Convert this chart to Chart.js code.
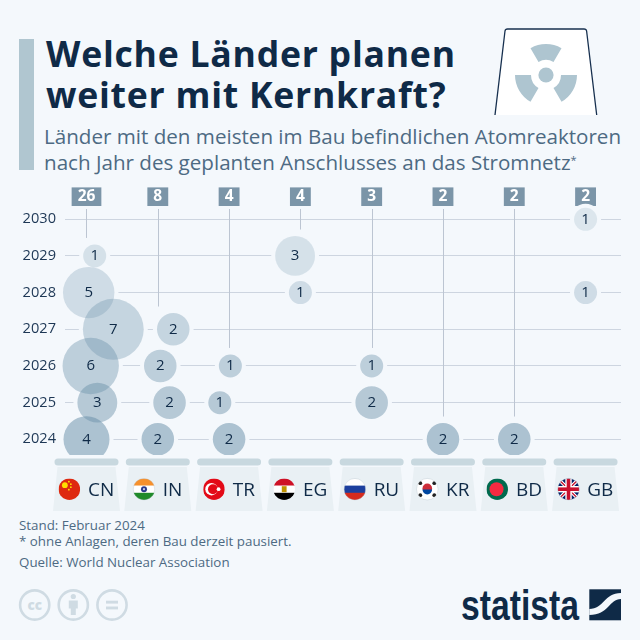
<!DOCTYPE html>
<html lang="de"><head><meta charset="utf-8">
<script src="https://cdn.jsdelivr.net/npm/chart.js@4"></script>
<style>
html,body{margin:0;padding:0;background:#f4f8fc;}
#stage{position:relative;width:640px;height:640px;overflow:hidden;background:#f4f8fc;font-family:"Open Sans",sans-serif;}
#stage canvas{position:absolute;left:0;top:0;}
#stage svg{position:absolute;left:0;top:0;}
.t{position:absolute;white-space:nowrap;}
.title{left:46px;font-weight:700;font-size:35.6px;line-height:40px;color:#0f2a47;letter-spacing:.75px;}
.sub{left:44px;font-size:20.6px;line-height:26px;color:#4d6a83;}
.sub sup{font-size:11px;line-height:0;vertical-align:6px;}
.foot{left:19px;font-size:13.35px;line-height:16px;color:#4d6a83;}
</style></head><body>
<div id="stage">
<svg width="640" height="640" viewBox="0 0 640 640">
  <rect x="19" y="39" width="15" height="131" fill="#b0c6d0"/>
  <path d="M495 115 L505 31 Q505.300 29 507.500 29 L584 29 Q586.300 29 586.600 31 L596.700 115 Z" fill="#fff"/>
  <path d="M495 115 L505 31 Q505.300 29 507.500 29 L584 29 Q586.300 29 586.600 31 L596.700 115" fill="none" stroke="#17304f" stroke-width="1.3"/>
  <g fill="#aec5d0">
    <circle cx="546" cy="75" r="7.600"/>
    <path d="M530.500 48.200 A31 31 0 0 1 561.500 48.200 L553.500 62 A15 15 0 0 0 538.500 62 Z"/>
    <path d="M515 75 A31 31 0 0 0 530.500 101.800 L538.500 88 A15 15 0 0 1 531 75 Z"/>
    <path d="M577 75 A31 31 0 0 1 561.500 101.800 L553.500 88 A15 15 0 0 0 561 75 Z"/>
  </g>
  <g fill="none" stroke="#cfdbe3" stroke-width="2.600">
    <circle cx="34.700" cy="605" r="14.600"/><circle cx="73.300" cy="605" r="14.600"/><circle cx="112" cy="605" r="14.600"/>
  </g>
  <text x="34.700" y="609.500" text-anchor="middle" font-family="Open Sans" font-weight="800" font-size="13.500" fill="#cfdbe3">cc</text>
  <g fill="#cfdbe3">
    <circle cx="73.300" cy="596.500" r="2.600"/>
    <path d="M68.800 600.500 H77.800 V608.500 H75.800 V615 H70.800 V608.500 H68.800 Z"/>
    <rect x="106" y="600.700" width="12" height="2.900"/><rect x="106" y="606.500" width="12" height="2.900"/>
  </g>
  <text x="461" y="620" font-family="Liberation Sans" font-weight="700" font-size="43" textLength="118" lengthAdjust="spacingAndGlyphs" fill="#0f2a47">statista</text>
  <rect x="589.300" y="589.300" width="31.700" height="31" fill="#0f2a47"/>
  <path d="M589.300 609 C604 609 604 593 621 593 L621 599 C609 599 609 615 589.300 615 Z" fill="#f4f8fc"/>
</svg>
<div class="t title" style="top:33px">Welche Länder planen</div>
<div class="t title" style="top:74px">weiter mit Kernkraft?</div>
<div class="t sub" style="top:123px">Länder mit den meisten im Bau befindlichen Atomreaktoren</div>
<div class="t sub" style="top:149px">nach Jahr des geplanten Anschlusses an das Stromnetz<sup>*</sup></div>
<div class="t foot" style="top:517px">Stand: Februar 2024</div>
<div class="t foot" style="top:533px">* ohne Anlagen, deren Bau derzeit pausiert.</div>
<div class="t foot" style="top:554px">Quelle: World Nuclear Association</div>
<canvas id="c" width="640" height="640"></canvas>
</div>
<script>
const countries = ["CN","IN","TR","EG","RU","KR","BD","GB"];
const totals    = [26,8,4,4,3,2,2,2];
const years     = [2024,2025,2026,2027,2028,2029,2030];
// reactors per country, one entry per year 2024..2030
const CN = [4,3,6,7,5,1,0];
const IN = [2,2,2,2,0,0,0];
const TR = [2,1,1,0,0,0,0];
const EG = [0,0,0,0,1,3,0];
const RU = [0,2,1,0,0,0,0];
const KR = [2,0,0,0,0,0,0];
const BD = [2,0,0,0,0,0,0];
const GB = [0,0,0,0,1,0,1];
const reactors = [CN,IN,TR,EG,RU,KR,BD,GB];
// sideways dodge of each bubble, in column units, so that they overlap as drawn
const dodgeCN = [0,.152,.059,.376,.031,.115,0];
const dodgeIN = [0,.165,.035,.217,0,0,0];
const dodgeTR = [0,-.13,.018,0,0,0,0];
const dodgeEG = [0,0,0,0,0,-.074,0];
const dodges = [dodgeCN,dodgeIN,dodgeTR,dodgeEG,[],[],[],[]];
const yearAlpha = [.5,.43,.38,.32,.26,.21,.17];

const BG = "#f4f8fc", INK = "#0f2a47";
const rOf = v => 11.5*Math.sqrt(v);

const datasets = years.map((yr,yi)=>({
  label:String(yr),
  backgroundColor:`rgba(100,140,165,${yearAlpha[yi]})`,
  borderWidth:0,
  clip:{left:false,top:false,right:false,bottom:0},
  data:countries.flatMap((c,ci)=> reactors[ci][yi]
    ? [{x:ci+(dodges[ci][yi]||0), y:yr, r:rOf(reactors[ci][yi]), v:reactors[ci][yi], c:ci}] : [])
}));

function flag(ctx,code,cx,cy,r){
  ctx.save();
  ctx.beginPath();ctx.arc(cx,cy,r,0,Math.PI*2);ctx.clip();
  const L=cx-r,T=cy-r,S=2*r;
  const rect=(c,x,y,w,h)=>{ctx.fillStyle=c;ctx.fillRect(x,y,w,h);};
  const dot=(c,x,y,rr)=>{ctx.fillStyle=c;ctx.beginPath();ctx.arc(x,y,rr,0,Math.PI*2);ctx.fill();};
  const tri3=(a,b,c,d)=>{rect(a,L,T,S,S/3+.2);rect(b,L,T+S/3,S,S/3+.2);rect(c,L,T+2*S/3,S,S/3);};
  if(code==="CN"){rect("#de2910",L,T,S,S);dot("#ffde00",cx-4.5,cy-4,2.9);
    [[-.5,-7.5],[1.5,-5],[1.5,-2],[-.5,.5]].forEach(p=>dot("#ffde00",cx+p[0],cy+p[1],.9));}
  if(code==="IN"){tri3("#f7902b","#ffffff","#1f8a2a");dot("#2b3a8c",cx,cy,3);dot("#c9cde6",cx,cy,1.1);}
  if(code==="TR"){rect("#e30a17",L,T,S,S);dot("#ffffff",cx-2.5,cy,6.2);dot("#e30a17",cx-1,cy,5);dot("#ffffff",cx+4.6,cy,1.9);}
  if(code==="EG"){tri3("#ce1126","#ffffff","#000000");rect("#c09300",cx-2.4,cy-3,4.8,6);}
  if(code==="RU"){tri3("#ffffff","#1c3f9e","#d52b1e");}
  if(code==="KR"){rect("#ffffff",L,T,S,S);dot("#cd2e3a",cx,cy-.8,4.8);
    ctx.fillStyle="#0047a0";ctx.beginPath();ctx.arc(cx,cy+.4,4.8,0,Math.PI);ctx.fill();
    [[-7,-6],[7,-6],[-7,6],[7,6]].forEach(p=>dot("#222222",cx+p[0],cy+p[1],1.9));}
  if(code==="BD"){rect("#006a4e",L,T,S,S);dot("#f42a41",cx-.7,cy,7);}
  if(code==="GB"){rect("#012169",L,T,S,S);
    ctx.lineCap="butt";
    ctx.strokeStyle="#fff";ctx.lineWidth=3.4;ctx.beginPath();ctx.moveTo(L,T);ctx.lineTo(L+S,T+S);ctx.moveTo(L+S,T);ctx.lineTo(L,T+S);ctx.stroke();
    ctx.strokeStyle="#c8102e";ctx.lineWidth=1.3;ctx.stroke();
    rect("#fff",cx-3.2,T,6.4,S);rect("#fff",L,cy-3.2,S,6.4);
    rect("#c8102e",cx-1.8,T,3.6,S);rect("#c8102e",L,cy-1.8,S,3.6);}
  ctx.restore();
  if(code==="KR"||code==="RU"||code==="GB"||code==="IN"){
    ctx.strokeStyle="rgba(170,185,195,.5)";ctx.lineWidth=.6;ctx.beginPath();ctx.arc(cx,cy,r,0,Math.PI*2);ctx.stroke();}
}

const decor = {
  id:"decor",
  beforeDatasetsDraw(chart){
    const {ctx,scales:{x,y},chartArea:a}=chart;
    ctx.save();
    // stems from the total box down to the first bubble of each country
    ctx.strokeStyle="#bcc5d2";ctx.lineWidth=1;
    countries.forEach((c,ci)=>{
      const last=reactors[ci].reduce((m,v,i)=>v?i:m,0);
      const end=y.getPixelForValue(years[last])-rOf(reactors[ci][last])-6.5;
      if(end<=a.top)return;
      const px=Math.round(x.getPixelForValue(ci))+.5;
      ctx.beginPath();ctx.moveTo(px,a.top);ctx.lineTo(px,end);ctx.stroke();
    });
    // gap around each bubble
    ctx.fillStyle=BG;
    ctx.beginPath();ctx.rect(0,0,640,a.bottom);ctx.clip();
    chart.data.datasets.forEach((d,i)=>{
      chart.getDatasetMeta(i).data.forEach(el=>{
        ctx.beginPath();ctx.arc(el.x,el.y,el.options.radius+4,0,Math.PI*2);ctx.fill();
      });
    });
    ctx.restore();
  },
  afterDatasetsDraw(chart){
    const {ctx,scales:{x}}=chart;
    ctx.save();
    // bubble values
    ctx.font='500 15px "Open Sans"';ctx.fillStyle=INK;ctx.textAlign="center";ctx.textBaseline="middle";
    chart.data.datasets.forEach((d,i)=>{
      chart.getDatasetMeta(i).data.forEach((el,j)=>{
        ctx.fillText(String(d.data[j].v),el.x,el.y);
      });
    });
    // cooling-tower plinths, flags, codes
    countries.forEach((c,ci)=>{
      const cx=x.getPixelForValue(ci);
      ctx.fillStyle="#e9f0f4";
      ctx.beginPath();ctx.moveTo(cx-29,467);ctx.lineTo(cx+29,467);ctx.lineTo(cx+33.500,511);ctx.lineTo(cx-33.500,511);ctx.closePath();ctx.fill();
      ctx.fillStyle="#c8d8df";
      ctx.beginPath();ctx.roundRect(cx-32,458.500,64,7,3.500);ctx.fill();
      ctx.font='500 19px "Open Sans"';
      const tw=ctx.measureText(c).width, total=21.5+8+tw, left=cx-total/2;
      flag(ctx,c,left+10.75,489.2,10.75);
      ctx.fillStyle=INK;ctx.textAlign="left";ctx.textBaseline="alphabetic";
      ctx.fillText(c,left+29.5,496);
    });
    ctx.restore();
  }
};

new Chart(document.getElementById("c"),{
  type:"bubble",
  data:{datasets},
  plugins:[decor],
  options:{
    responsive:false,animation:false,
    layout:{autoPadding:false,padding:{left:0,top:0,right:19,bottom:185}},
    plugins:{legend:{display:false},tooltip:{enabled:false}},
    scales:{
      x:{
        type:"linear",position:"top",min:-.3015,max:7.497,
        afterBuildTicks:s=>{s.ticks=countries.map((c,i)=>({value:i}));},
        afterFit:s=>{s.height=209;s.paddingLeft=0;s.paddingRight=0;},
        grid:{display:false,drawTicks:false},border:{display:false},
        ticks:{
          autoSkip:false,maxRotation:0,padding:3,color:"#ffffff",
          font:{family:"Open Sans",size:15.5,weight:"700"},
          callback:v=>String(totals[v]),
          showLabelBackdrop:true,backdropColor:"#7b95a8",backdropPadding:{x:6,y:0}
        }
      },
      y:{
        type:"linear",min:2023.572,max:2030.28,
        afterBuildTicks:s=>{s.ticks=years.map(v=>({value:v}));},
        afterFit:s=>{s.width=65;s.paddingTop=0;s.paddingBottom=0;},
        grid:{color:"#cdd5e0",lineWidth:1,drawTicks:false},border:{display:false},
        ticks:{autoSkip:false,padding:9,color:"#1d3755",font:{family:"Open Sans",size:14.6,weight:"500"},callback:v=>String(v)}
      }
    }
  }
});
</script>
</body></html>
